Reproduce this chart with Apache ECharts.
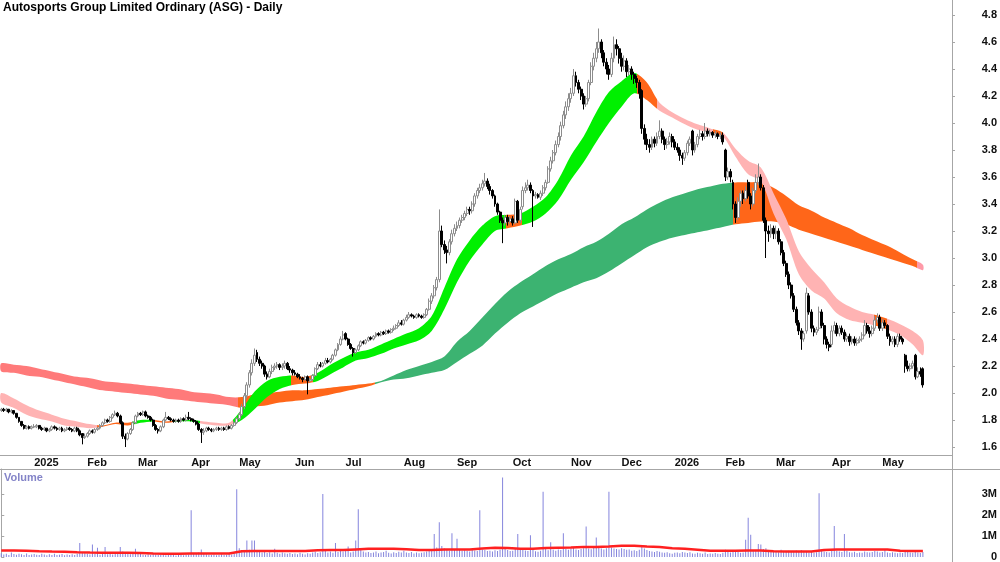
<!DOCTYPE html>
<html>
<head>
<meta charset="utf-8">
<title>ASG - Daily</title>
<script src="https://cdn.jsdelivr.net/npm/echarts@6/dist/echarts.min.js"></script>
<style>
  html, body { margin: 0; padding: 0; background: #ffffff; }
  #chart { width: 1000px; height: 562px; }
</style>
</head>
<body>
<div id="chart"></div>
<script>
// ---- trading calendar (ASX) ----
var firstDay = '2024-12-11';
var holidays = ['2024-12-25', '2024-12-26', '2025-01-01', '2025-01-27', '2025-04-18', '2025-04-21',
	'2025-04-25', '2025-06-09', '2025-12-25', '2025-12-26', '2026-01-01', '2026-01-26',
	'2026-04-03', '2026-04-06', '2026-06-08'];
var slotCount = 376; // includes the empty slots right of the last bar
var monthNames = ['Jan', 'Feb', 'Mar', 'Apr', 'May', 'Jun', 'Jul', 'Aug', 'Sep', 'Oct', 'Nov', 'Dec'];

// ---- daily prices, one row per month ----
var opens = [
	1.87,1.88,1.87,1.88,1.86,1.87,1.85,1.82,1.79,1.76,1.74,1.75,1.74,
	1.75,1.75,1.76,1.74,1.73,1.74,1.72,1.73,1.75,1.74,1.73,1.74,1.72,1.73,1.74,1.73,1.72,1.74,1.72,1.70,1.67,
	1.68,1.70,1.72,1.71,1.73,1.74,1.76,1.78,1.80,1.79,1.82,1.84,1.85,1.83,1.78,1.68,1.66,1.70,1.73,1.78,
	1.83,1.85,1.84,1.86,1.83,1.82,1.80,1.76,1.73,1.72,1.75,1.80,1.82,1.81,1.80,1.79,1.80,1.79,1.81,1.80,1.82,
	1.81,1.80,1.79,1.77,1.73,1.71,1.72,1.74,1.73,1.72,1.73,1.74,1.73,1.74,1.73,1.75,1.74,1.76,1.78,
	1.81,1.84,1.90,1.98,2.06,2.15,2.22,2.30,2.25,2.22,2.20,2.14,2.12,2.16,2.19,2.20,2.21,2.19,2.20,2.22,2.18,2.17,
	2.15,2.14,2.12,2.11,2.10,2.12,2.09,2.10,2.13,2.18,2.21,2.20,2.22,2.24,2.23,2.25,2.28,2.32,2.36,2.40,
	2.44,2.40,2.36,2.33,2.30,2.32,2.35,2.38,2.37,2.39,2.41,2.40,2.42,2.44,2.43,2.45,2.44,2.46,2.45,2.47,2.48,2.50,2.52,
	2.51,2.54,2.56,2.58,2.57,2.56,2.58,2.57,2.56,2.58,2.62,2.68,2.72,2.78,2.84,3.20,3.10,3.06,3.04,3.12,3.18,
	3.22,3.24,3.28,3.30,3.33,3.36,3.35,3.40,3.46,3.50,3.52,3.55,3.57,3.53,3.50,3.46,3.40,3.34,3.28,3.26,3.30,3.27,
	3.29,3.26,3.42,3.28,3.38,3.50,3.52,3.54,3.50,3.46,3.47,3.45,3.48,3.52,3.56,3.66,3.72,3.78,3.84,3.90,3.98,4.06,4.12,
	4.18,4.22,4.35,4.30,4.25,4.20,4.14,4.18,4.30,4.42,4.48,4.55,4.60,4.52,4.45,4.40,4.36,4.48,4.58,4.55,
	4.48,4.42,4.46,4.38,4.40,4.36,4.33,4.30,4.24,3.96,3.88,3.84,3.82,3.88,3.85,3.90,3.94,3.88,3.84,3.86,3.90,
	3.86,3.82,3.80,3.76,3.74,3.78,3.85,3.94,3.80,3.84,3.90,3.92,3.90,3.94,3.92,3.93,3.91,3.92,3.90,3.91,
	3.80,3.60,3.64,3.56,3.40,3.30,3.42,3.48,3.44,3.56,3.46,3.40,3.50,3.56,3.60,3.52,3.28,3.20,3.18,3.22,
	3.18,3.20,3.12,3.04,2.96,2.88,2.80,2.72,2.62,2.52,2.46,2.40,2.46,2.72,2.60,2.48,2.45,2.48,2.60,2.50,2.40,2.36,
	2.36,2.46,2.50,2.44,2.48,2.45,2.40,2.42,2.38,2.40,2.37,2.39,2.40,2.43,2.50,2.46,2.44,2.48,2.54,2.56,
	2.48,2.52,2.50,2.42,2.38,2.40,2.36,2.42,2.40,2.28,2.20,2.18,2.20,2.28,2.12,2.16,2.18
];
var closes = [
	1.88,1.87,1.88,1.86,1.87,1.85,1.82,1.79,1.76,1.74,1.75,1.74,1.75,
	1.75,1.76,1.74,1.73,1.74,1.72,1.73,1.75,1.74,1.73,1.74,1.72,1.73,1.74,1.73,1.72,1.74,1.72,1.69,1.67,1.68,
	1.70,1.72,1.71,1.73,1.74,1.76,1.78,1.80,1.79,1.82,1.84,1.85,1.83,1.78,1.68,1.66,1.70,1.73,1.78,1.83,
	1.85,1.84,1.86,1.83,1.82,1.80,1.76,1.73,1.72,1.75,1.80,1.82,1.81,1.80,1.79,1.80,1.79,1.81,1.80,1.82,1.81,
	1.80,1.79,1.77,1.73,1.71,1.72,1.74,1.73,1.72,1.73,1.74,1.73,1.74,1.73,1.75,1.74,1.76,1.78,1.81,
	1.84,1.90,1.98,2.06,2.15,2.22,2.28,2.25,2.22,2.20,2.14,2.12,2.16,2.19,2.20,2.21,2.19,2.20,2.22,2.18,2.17,2.15,
	2.14,2.12,2.11,2.10,2.12,2.09,2.10,2.13,2.18,2.21,2.20,2.22,2.24,2.23,2.25,2.28,2.32,2.36,2.40,2.43,
	2.40,2.36,2.33,2.30,2.32,2.35,2.38,2.37,2.39,2.41,2.40,2.42,2.44,2.43,2.45,2.44,2.46,2.45,2.47,2.48,2.50,2.52,2.51,
	2.54,2.56,2.58,2.57,2.56,2.58,2.57,2.56,2.58,2.62,2.68,2.72,2.78,2.84,3.20,3.10,3.06,3.04,3.12,3.18,3.22,
	3.24,3.28,3.30,3.33,3.36,3.35,3.40,3.46,3.50,3.52,3.55,3.57,3.53,3.50,3.46,3.40,3.34,3.28,3.26,3.30,3.27,3.29,
	3.26,3.42,3.28,3.36,3.50,3.52,3.54,3.50,3.46,3.47,3.45,3.48,3.52,3.56,3.66,3.72,3.78,3.84,3.90,3.98,4.06,4.12,4.18,
	4.22,4.35,4.30,4.25,4.20,4.14,4.18,4.30,4.42,4.48,4.55,4.60,4.52,4.45,4.40,4.36,4.48,4.58,4.55,4.48,
	4.42,4.46,4.38,4.40,4.36,4.33,4.30,4.22,3.96,3.88,3.84,3.82,3.88,3.85,3.90,3.94,3.88,3.84,3.86,3.90,3.86,
	3.82,3.80,3.76,3.74,3.78,3.85,3.88,3.80,3.84,3.90,3.92,3.90,3.94,3.92,3.93,3.91,3.92,3.90,3.91,3.86,
	3.60,3.64,3.60,3.40,3.30,3.42,3.48,3.44,3.50,3.46,3.40,3.50,3.56,3.60,3.52,3.28,3.20,3.18,3.22,3.18,
	3.20,3.12,3.04,2.96,2.88,2.80,2.72,2.62,2.52,2.46,2.40,2.44,2.74,2.60,2.48,2.45,2.47,2.60,2.50,2.40,2.36,2.34,
	2.46,2.50,2.44,2.48,2.45,2.40,2.42,2.38,2.40,2.37,2.39,2.40,2.43,2.50,2.46,2.44,2.48,2.54,2.56,2.48,
	2.52,2.50,2.42,2.38,2.40,2.36,2.42,2.40,2.38,2.20,2.18,2.20,2.22,2.12,2.16,2.14,2.06
];
var lows = [
	1.86,1.86,1.86,1.85,1.85,1.84,1.81,1.78,1.75,1.73,1.73,1.73,1.73,
	1.74,1.74,1.73,1.72,1.72,1.71,1.71,1.72,1.73,1.72,1.72,1.71,1.71,1.72,1.72,1.71,1.71,1.71,1.68,1.62,1.66,
	1.67,1.69,1.70,1.70,1.72,1.73,1.75,1.77,1.78,1.78,1.81,1.83,1.82,1.77,1.66,1.60,1.65,1.69,1.72,1.77,
	1.82,1.83,1.83,1.82,1.81,1.79,1.75,1.72,1.70,1.71,1.74,1.79,1.80,1.79,1.78,1.78,1.78,1.78,1.79,1.79,1.80,
	1.79,1.78,1.76,1.72,1.63,1.69,1.71,1.72,1.71,1.71,1.72,1.72,1.72,1.72,1.72,1.73,1.73,1.75,1.77,
	1.80,1.83,1.88,1.96,2.04,2.13,2.20,2.23,2.20,2.18,2.12,2.10,2.11,2.14,2.17,2.18,2.17,2.17,2.18,2.17,2.15,2.13,
	2.13,2.11,2.10,2.08,2.09,1.99,2.08,2.09,2.12,2.17,2.19,2.19,2.21,2.22,2.22,2.24,2.27,2.31,2.35,2.39,
	2.39,2.35,2.32,2.27,2.29,2.31,2.34,2.36,2.36,2.38,2.39,2.39,2.41,2.42,2.42,2.43,2.43,2.44,2.44,2.46,2.47,2.49,2.50,
	2.50,2.53,2.55,2.56,2.55,2.55,2.56,2.55,2.55,2.57,2.61,2.66,2.70,2.76,2.82,3.08,3.03,2.96,3.02,3.10,3.16,
	3.20,3.22,3.26,3.28,3.31,3.32,3.33,3.38,3.44,3.48,3.50,3.53,3.51,3.47,3.44,3.38,3.32,3.26,3.11,3.24,3.24,3.25,
	3.24,3.25,3.26,3.26,3.36,3.48,3.50,3.48,3.23,3.44,3.44,3.43,3.46,3.50,3.55,3.64,3.70,3.76,3.82,3.87,3.96,4.03,4.09,
	4.15,4.20,4.27,4.22,4.17,4.10,4.12,4.16,4.28,4.39,4.45,4.52,4.48,4.42,4.36,4.32,4.34,4.45,4.50,4.44,
	4.38,4.39,4.34,4.35,4.32,4.29,4.26,4.18,3.92,3.84,3.80,3.78,3.80,3.82,3.83,3.88,3.85,3.80,3.81,3.84,3.82,
	3.80,3.78,3.72,3.69,3.72,3.76,3.83,3.76,3.78,3.82,3.88,3.87,3.88,3.90,3.90,3.89,3.89,3.88,3.88,3.84,
	3.57,3.58,3.56,3.36,3.26,3.28,3.38,3.40,3.42,3.44,3.36,3.38,3.48,3.54,3.50,3.26,3.00,3.12,3.15,3.14,
	3.14,3.10,3.02,2.94,2.86,2.77,2.70,2.60,2.50,2.43,2.32,2.38,2.44,2.58,2.45,2.42,2.43,2.46,2.48,2.36,2.33,2.31,
	2.34,2.44,2.42,2.42,2.43,2.38,2.38,2.35,2.36,2.35,2.35,2.37,2.38,2.42,2.44,2.41,2.42,2.46,2.52,2.46,
	2.46,2.48,2.40,2.35,2.36,2.34,2.34,2.38,2.36,2.15,2.16,2.16,2.18,2.10,2.11,2.12,2.04
];
var highs = [
	1.89,1.89,1.89,1.88,1.88,1.87,1.85,1.82,1.79,1.77,1.76,1.76,1.76,
	1.77,1.77,1.76,1.75,1.75,1.74,1.74,1.76,1.76,1.75,1.75,1.75,1.74,1.75,1.75,1.74,1.75,1.75,1.73,1.70,1.70,
	1.71,1.73,1.73,1.74,1.75,1.77,1.79,1.81,1.81,1.83,1.85,1.87,1.86,1.84,1.79,1.70,1.71,1.74,1.79,1.84,
	1.86,1.86,1.87,1.87,1.84,1.83,1.81,1.77,1.74,1.76,1.81,1.86,1.83,1.82,1.81,1.81,1.81,1.82,1.82,1.84,1.86,
	1.82,1.81,1.80,1.78,1.74,1.74,1.75,1.75,1.74,1.74,1.75,1.75,1.75,1.75,1.76,1.76,1.77,1.79,1.82,
	1.86,1.92,2.00,2.08,2.17,2.25,2.33,2.32,2.27,2.24,2.21,2.16,2.18,2.21,2.22,2.23,2.22,2.22,2.24,2.23,2.20,2.18,
	2.17,2.15,2.14,2.12,2.13,2.13,2.11,2.14,2.19,2.23,2.23,2.23,2.26,2.26,2.26,2.29,2.33,2.37,2.42,2.46,
	2.45,2.41,2.37,2.34,2.33,2.36,2.39,2.39,2.40,2.42,2.42,2.43,2.45,2.45,2.46,2.46,2.47,2.47,2.48,2.50,2.51,2.54,2.54,
	2.55,2.58,2.60,2.59,2.58,2.59,2.59,2.58,2.59,2.63,2.70,2.74,2.80,2.86,3.36,3.24,3.13,3.09,3.14,3.21,3.25,
	3.27,3.30,3.32,3.35,3.38,3.38,3.42,3.48,3.52,3.55,3.58,3.63,3.59,3.55,3.51,3.47,3.41,3.35,3.30,3.32,3.32,3.31,
	3.31,3.44,3.43,3.38,3.53,3.56,3.58,3.56,3.51,3.49,3.48,3.50,3.54,3.58,3.68,3.75,3.80,3.87,3.93,4.01,4.09,4.16,4.22,
	4.26,4.40,4.38,4.32,4.27,4.22,4.20,4.32,4.45,4.52,4.60,4.70,4.62,4.54,4.48,4.43,4.52,4.64,4.62,4.57,
	4.52,4.50,4.48,4.43,4.42,4.38,4.35,4.32,4.25,3.99,3.92,3.88,3.90,3.90,3.93,4.02,3.96,3.90,3.89,3.93,3.92,
	3.88,3.85,3.82,3.78,3.80,3.87,3.90,3.95,3.86,3.92,3.95,3.94,4.00,3.96,3.95,3.94,3.94,3.93,3.93,3.93,
	3.81,3.67,3.66,3.58,3.42,3.45,3.50,3.50,3.53,3.58,3.48,3.52,3.62,3.70,3.62,3.54,3.30,3.24,3.25,3.24,
	3.24,3.22,3.14,3.06,2.98,2.90,2.82,2.74,2.64,2.54,2.48,2.46,2.78,2.74,2.62,2.50,2.49,2.64,2.62,2.52,2.42,2.38,
	2.50,2.53,2.52,2.50,2.50,2.47,2.44,2.44,2.42,2.42,2.41,2.42,2.45,2.54,2.52,2.49,2.50,2.57,2.59,2.58,
	2.55,2.54,2.51,2.44,2.42,2.42,2.44,2.44,2.41,2.29,2.24,2.22,2.24,2.29,2.19,2.19,2.19
];

// daily volume, thousands of shares
var volumesK = [
	180,120,150,90,210,140,110,160,130,100,170,90,120,
	140,110,90,160,120,80,130,100,150,90,110,140,80,120,100,130,90,150,670,210,180,
	160,120,600,140,440,110,150,480,130,170,120,190,140,480,260,210,150,130,170,390,
	200,140,110,90,130,100,150,120,90,110,140,80,100,120,90,70,110,130,80,100,120,
	2220,180,140,210,360,190,130,110,90,120,80,100,130,90,110,140,120,180,3230,
	420,300,260,780,350,780,780,310,280,220,250,190,230,170,390,200,160,210,180,150,190,140,
	170,130,200,150,120,180,160,210,250,190,230,3000,280,220,260,200,670,240,300,260,
	280,500,220,260,780,2270,340,260,210,240,190,220,260,180,210,240,300,200,170,230,190,250,210,
	300,220,190,240,170,210,180,200,230,260,320,380,1100,450,1650,520,410,360,300,1130,340,
	870,380,300,320,280,260,340,310,290,2220,360,330,280,300,260,320,290,350,3780,420,330,280,
	300,420,1100,380,360,310,280,1040,340,270,250,300,3110,380,320,700,340,300,360,330,1130,380,350,
	400,450,360,330,380,420,1450,400,370,440,930,480,400,360,420,3110,450,400,380,360,
	420,380,340,360,300,320,280,350,520,400,330,290,260,240,280,250,220,200,230,180,160,
	200,220,180,240,210,190,230,170,150,200,180,160,210,140,170,150,190,160,140,200,
	340,260,220,300,280,240,200,220,820,1870,1060,330,280,620,600,380,420,300,260,240,
	260,230,350,280,250,300,270,240,310,260,330,280,250,220,240,200,230,3030,300,260,240,220,
	280,1480,300,260,240,1100,290,230,210,250,190,220,200,260,230,210,240,280,260,220,
	240,350,210,190,230,200,180,220,190,300,240,210,200,260,220,190,240
];

// ribbons and volume average, read every 5th session (last one = final bar)
var sampleStep = 5;
var shortUpper = [
	2.00,1.96,1.91,1.87,1.84,1.81,1.79,1.77,1.76,1.78,
	1.78,1.80,1.80,1.79,1.80,1.80,1.79,1.78,1.78,1.88,
	2.01,2.09,2.12,2.13,2.12,2.15,2.21,2.26,2.30,2.32,
	2.36,2.40,2.44,2.48,2.57,2.78,2.99,3.13,3.24,3.31,
	3.32,3.33,3.38,3.45,3.58,3.76,3.90,4.08,4.23,4.31,
	4.37,4.30,4.15,4.08,4.03,3.99,3.96,3.93,3.81,3.72,
	3.67,3.48,3.29,3.05,2.92,2.82,2.70,2.64,2.60,2.58,
	2.55,2.51,2.46,2.39
];
var shortLower = [
	1.93,1.89,1.84,1.81,1.79,1.76,1.75,1.74,1.75,1.77,
	1.76,1.78,1.79,1.78,1.79,1.79,1.77,1.76,1.76,1.80,
	1.88,1.97,2.03,2.06,2.07,2.09,2.14,2.19,2.24,2.26,
	2.29,2.33,2.36,2.39,2.46,2.62,2.82,2.98,3.10,3.20,
	3.22,3.24,3.27,3.33,3.43,3.58,3.71,3.86,4.00,4.12,
	4.22,4.17,4.09,4.04,3.99,3.95,3.93,3.90,3.75,3.62,
	3.57,3.33,3.14,2.88,2.76,2.70,2.59,2.54,2.52,2.50,
	2.47,2.43,2.36,2.28
];
var longUpper = [
	2.22,2.21,2.20,2.18,2.16,2.14,2.12,2.11,2.09,2.08,
	2.07,2.06,2.05,2.04,2.03,2.01,2.00,1.99,1.97,1.97,
	1.99,2.00,2.01,2.02,2.02,2.03,2.04,2.05,2.06,2.07,
	2.09,2.13,2.17,2.20,2.23,2.27,2.38,2.46,2.56,2.66,
	2.75,2.82,2.88,2.94,2.99,3.03,3.08,3.12,3.18,3.25,
	3.30,3.36,3.41,3.45,3.48,3.51,3.53,3.55,3.56,3.56,
	3.56,3.52,3.46,3.39,3.35,3.30,3.26,3.22,3.17,3.13,
	3.09,3.04,2.99,2.95
];
var longLower = [
	2.16,2.15,2.13,2.12,2.10,2.08,2.06,2.04,2.02,2.01,
	2.00,1.99,1.98,1.96,1.95,1.94,1.93,1.92,1.91,1.89,
	1.90,1.91,1.93,1.94,1.95,1.97,1.99,2.01,2.03,2.05,
	2.08,2.10,2.11,2.13,2.15,2.17,2.23,2.29,2.35,2.44,
	2.52,2.59,2.64,2.69,2.74,2.78,2.82,2.85,2.90,2.96,
	3.02,3.08,3.12,3.15,3.17,3.19,3.21,3.23,3.25,3.26,
	3.27,3.27,3.25,3.21,3.18,3.15,3.12,3.09,3.06,3.03,
	3.00,2.97,2.94,2.91
];
var volumeAvgK = [
	310,310,300,270,260,255,230,210,205,200,
	200,190,165,160,160,165,170,170,170,270,
	280,285,285,280,280,320,330,330,360,390,
	390,390,370,330,330,360,360,360,400,440,
	430,390,390,430,440,450,480,480,500,540,
	540,500,480,420,390,350,300,300,300,310,
	310,270,260,260,260,330,360,360,360,360,
	360,300,280,280
];

// ribbon colour changes (session index where the colour switches)
var shortBreaks = [38, 52, 60, 68, 78.5, 91.5, 114.5, 123, 199.5, 205.5, 251, 259, 281, 285, 344.5, 350];
var shortColors = ['#ffb3b3', '#ff6619', '#00f000', '#ff6619', '#00f000', '#ffb3b3', '#00f000', '#ff6619',
	'#00f000', '#ff6619', '#00f000', '#ff6619', '#ffb3b3', '#ff6619', '#ffb3b3', '#ff6619', '#ffb3b3'];
var longBreaks = [93.5, 147.5, 289, 361.5];
var longColors = ['#ff7a7a', '#ff6619', '#3cb371', '#ff6619', '#ff9aa8'];

// axis ticks
var priceTicks = [1.6, 1.8, 2.0, 2.2, 2.4, 2.6, 2.8, 3.0, 3.2, 3.4, 3.6, 3.8, 4.0, 4.2, 4.4, 4.6, 4.8];
var priceMin = 1.541;
var priceMax = 4.911;
var volumeTicks = [0, 1000000, 2000000, 3000000];
var volumeMax = 4190000;

var chartTitle = 'Autosports Group Limited Ordinary (ASG) - Daily';
var fontFamily = '"Liberation Sans", Arial, Helvetica, sans-serif';
var frameColor = '#a6a6a6';

function tradingDays() {
	var out = [];
	var t = Date.parse(firstDay + 'T00:00:00Z');
	while (out.length < slotCount) {
		var d = new Date(t);
		var wd = d.getUTCDay();
		var s = d.toISOString().slice(0, 10);
		if (wd !== 0 && wd !== 6 && holidays.indexOf(s) < 0) {
			out.push(s);
		}
		t += 86400000;
	}
	return out;
}

var days = tradingDays();
var lastBar = closes.length - 1;
// label a month only where there are bars
var monthStart = days.map(function(d, i) {
	return i > 0 && i <= lastBar && d.slice(5, 7) !== days[i - 1].slice(5, 7);
});

function sampleX(k) {
	return Math.min(k * sampleStep, lastBar);
}

// sharp colour stops along the band, offsets in bar index / last bar
function bandGradient(x0, x1, breaks, colors) {
	var stops = [];
	for (var i = 0; i < colors.length; i++) {
		var from = i === 0 ? 0 : Math.min(1, breaks[i - 1] / lastBar);
		var to = i < breaks.length ? Math.min(1, breaks[i] / lastBar) : 1;
		stops.push({ offset: from, color: colors[i] }, { offset: to, color: colors[i] });
	}
	return new echarts.graphic.LinearGradient(x0, 0, x1, 0, stops, true);
}

// one filled ribbon between two sampled edges, drawn through the axes
function bandSeries(upper, lower, breaks, colors) {
	return {
		type: 'custom',
		xAxisIndex: 0,
		yAxisIndex: 0,
		silent: true,
		z: 1,
		data: upper.map(function(v, k) { return [sampleX(k), v, lower[k]]; }),
		encode: { x: 0, y: [1, 2] },
		renderItem: function(params, api) {
			if (params.dataIndex !== 0) return null;
			var top = [];
			var bottom = [];
			for (var k = 0; k < upper.length; k++) {
				top.push(api.coord([sampleX(k), upper[k]]));
				bottom.unshift(api.coord([sampleX(k), lower[k]]));
			}
			var x0 = top[0][0];
			var x1 = top[top.length - 1][0];
			return {
				type: 'polygon',
				shape: { points: top.concat(bottom), smooth: 0.3 },
				style: { fill: bandGradient(x0, x1, breaks, colors) }
			};
		}
	};
}

var candleData = closes.map(function(c, i) {
	return [opens[i], c, lows[i], highs[i]];
});
var volumes = volumesK.map(function(v) { return v * 1000; });
var volumeAvg = volumeAvgK.map(function(v, k) { return [sampleX(k), v * 1000]; });

var labelStyle = {
	color: '#111111',
	fontSize: 11,
	fontWeight: 'bold',
	fontFamily: fontFamily
};

var chart = echarts.init(document.getElementById('chart'));

var option = {
	animation: false,
	backgroundColor: '#ffffff',
	title: [{
		text: chartTitle,
		left: 3,
		top: 2,
		padding: 0,
		textStyle: { fontSize: 12, fontWeight: 'bold', color: '#000000', fontFamily: fontFamily }
	}, {
		text: 'Volume',
		left: 4,
		top: 472,
		padding: 0,
		textStyle: { fontSize: 11, fontWeight: 'bold', color: '#8484c8', fontFamily: fontFamily }
	}],
	grid: [
		{ left: 0, right: 48, top: 0, height: 455, outerBoundsMode: 'none' },
		{ left: 0, right: 48, top: 469, height: 88, outerBoundsMode: 'none' }
	],
	xAxis: [{
		type: 'category',
		gridIndex: 0,
		data: days,
		boundaryGap: true,
		axisLine: { lineStyle: { color: frameColor } },
		axisTick: {
			alignWithLabel: true,
			length: 3,
			interval: function(i) { return monthStart[i]; },
			lineStyle: { color: frameColor }
		},
		axisLabel: Object.assign({
			interval: function(i) { return monthStart[i]; },
			align: 'left',
			margin: 2,
			formatter: function(value) {
				var m = parseInt(value.slice(5, 7), 10);
				return m === 1 ? value.slice(0, 4) : monthNames[m - 1];
			}
		}, labelStyle),
		splitLine: { show: false }
	}, {
		type: 'category',
		gridIndex: 1,
		data: days,
		show: false
	}, {
		type: 'value',
		gridIndex: 1,
		position: 'top',
		min: -0.5,
		max: slotCount - 0.5,
		show: false
	}],
	yAxis: [{
		type: 'value',
		gridIndex: 0,
		position: 'right',
		min: priceMin,
		max: priceMax,
		axisLine: { show: true, lineStyle: { color: frameColor } },
		axisTick: { show: true, length: 3, customValues: priceTicks, lineStyle: { color: frameColor } },
		axisLabel: Object.assign({
			customValues: priceTicks,
			align: 'right',
			margin: 45,
			formatter: function(v) { return v.toFixed(1); }
		}, labelStyle),
		splitLine: { show: false }
	}, {
		type: 'value',
		gridIndex: 1,
		position: 'right',
		min: 0,
		max: volumeMax,
		axisLine: { show: true, lineStyle: { color: frameColor } },
		axisTick: { show: true, length: 3, customValues: volumeTicks, lineStyle: { color: frameColor } },
		axisLabel: Object.assign({
			customValues: volumeTicks,
			align: 'right',
			margin: 45,
			formatter: function(v) { return v === 0 ? '0' : (v / 1000000) + 'M'; }
		}, labelStyle),
		splitLine: { show: false }
	}],
	graphic: [{
		type: 'line',
		shape: { x1: 0, y1: 469.5, x2: 1000, y2: 469.5 },
		style: { stroke: frameColor, lineWidth: 1 },
		z: 50
	}, {
		type: 'line',
		shape: { x1: 952.5, y1: 0, x2: 952.5, y2: 562 },
		style: { stroke: frameColor, lineWidth: 1 },
		z: 50
	}],
	series: [
		bandSeries(longUpper, longLower, longBreaks, longColors),
		bandSeries(shortUpper, shortLower, shortBreaks, shortColors),
		{
			type: 'candlestick',
			xAxisIndex: 0,
			yAxisIndex: 0,
			data: candleData,
			barWidth: 2.4,
			z: 3,
			itemStyle: {
				color: '#ffffff',
				color0: '#000000',
				borderColor: '#8c8c8c',
				borderColor0: '#000000',
				borderWidth: 1
			}
		}, {
			type: 'bar',
			xAxisIndex: 1,
			yAxisIndex: 1,
			data: volumes,
			barWidth: 1,
			silent: true,
			itemStyle: { color: '#8585dd' }
		}, {
			type: 'line',
			xAxisIndex: 2,
			yAxisIndex: 1,
			data: volumeAvg,
			symbol: 'none',
			silent: true,
			z: 4,
			lineStyle: { color: '#ff2020', width: 2.5 }
		}
	]
};

window.onresize = chart.resize;
chart.setOption(option);
</script>
</body>
</html>
